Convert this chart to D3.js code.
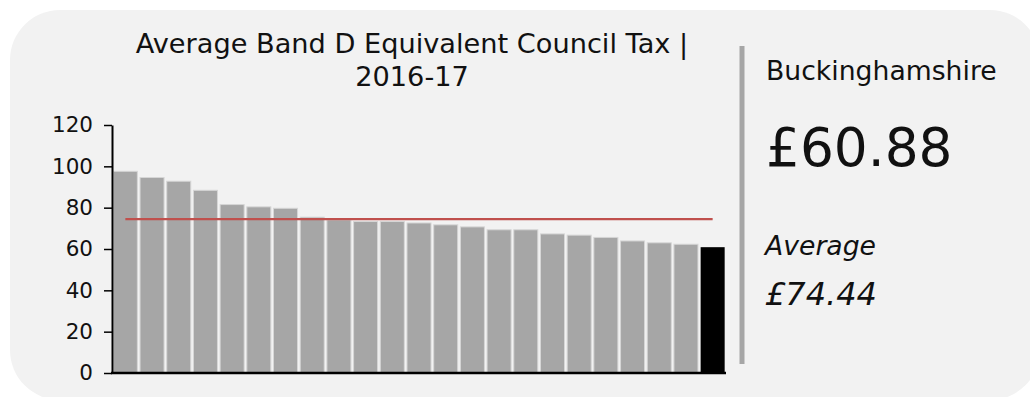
<!DOCTYPE html>
<html>
<head>
<meta charset="utf-8">
<script src="https://cdn.jsdelivr.net/npm/d3@7"></script>
<style>
  html, body { margin: 0; padding: 0; background: #ffffff; }
  svg { display: block; font-family: "DejaVu Sans", Verdana, sans-serif; }
</style>
</head>
<body>
<svg id="chart" width="1030" height="397"></svg>
<script>
// Band D equivalent council tax (£) by authority, sorted high to low;
// the highlighted authority is the last entry.
const categories = ["A1","A2","A3","A4","A5","A6","A7","A8","A9","A10","A11","A12",
                    "A13","A14","A15","A16","A17","A18","A19","A20","A21","A22","Buckinghamshire"];
const values = [97.6, 94.6, 92.8, 88.4, 81.5, 80.4, 79.7, 75.4, 74.1, 73.3, 73.3, 72.6,
                71.7, 70.7, 69.3, 69.3, 67.3, 66.7, 65.6, 63.9, 63.0, 62.3, 60.88];
const highlight = "Buckinghamshire";
const averageValue = [74.44];
const yTicks = [0, 20, 40, 60, 80, 100, 120];
const titleLines = ["Average Band D Equivalent Council Tax |", "2016-17"];

const svg = d3.select("#chart");

// panel background
svg.append("rect")
  .attr("x", 10).attr("y", 10)
  .attr("width", 1030).attr("height", 390)
  .attr("rx", 50).attr("ry", 50)
  .attr("fill", "#f2f2f2");

const x = d3.scaleBand()
  .domain(categories)
  .range([112, 726])
  .paddingInner(0.1)
  .paddingOuter(0.05);

const y = d3.scaleLinear()
  .domain([0, 120])
  .range([373, 125]);

// title
svg.append("text")
  .attr("x", 412)
  .attr("y", 53)
  .attr("text-anchor", "middle")
  .attr("font-size", "27.2px")
  .attr("fill", "#111")
  .selectAll("tspan")
  .data(titleLines)
  .join("tspan")
  .attr("x", 412)
  .attr("dy", (d, i) => i === 0 ? 0 : 33)
  .text(d => d);

// bars
const data = categories.map((c, i) => ({ name: c, value: values[i] }));
svg.append("g")
  .selectAll("rect")
  .data(data)
  .join("rect")
  .attr("x", d => x(d.name))
  .attr("y", d => y(d.value))
  .attr("width", x.bandwidth())
  .attr("height", d => y(0) - y(d.value))
  .attr("fill", d => d.name === highlight ? "#000000" : "#a6a6a6")
  .attr("stroke", d => d.name === highlight ? "none" : "#d6d6d6")
  .attr("stroke-width", 1);

// average line
svg.append("line")
  .attr("x1", x(categories[0]) + x.bandwidth() / 2)
  .attr("x2", x(categories[categories.length - 1]) + x.bandwidth() / 2)
  .attr("y1", y(averageValue[0]))
  .attr("y2", y(averageValue[0]))
  .attr("stroke", "#c0504d")
  .attr("stroke-width", 2.4);

// y axis
const yAxis = svg.append("g")
  .attr("transform", "translate(112,0)")
  .call(d3.axisLeft(y).tickValues(yTicks).tickSize(8).tickPadding(11).tickSizeOuter(0));
yAxis.select(".domain").attr("stroke", "#000").attr("stroke-width", 2);
yAxis.selectAll(".tick line").attr("stroke", "#000").attr("stroke-width", 1.5);
yAxis.selectAll(".tick text")
  .attr("font-size", "21.5px")
  .attr("font-family", "DejaVu Sans, Verdana, sans-serif")
  .attr("fill", "#111");

// x baseline
svg.append("line")
  .attr("x1", 111).attr("x2", 726)
  .attr("y1", y(0)).attr("y2", y(0))
  .attr("stroke", "#000").attr("stroke-width", 2.5);

// divider
svg.append("line")
  .attr("x1", 742).attr("x2", 742)
  .attr("y1", 46).attr("y2", 364)
  .attr("stroke", "#a6a6a6").attr("stroke-width", 5);

// side panel text
const side = svg.append("g").attr("fill", "#111");
side.append("text")
  .attr("x", 766).attr("y", 80)
  .attr("font-size", "26.67px")
  .text(highlight);
side.append("text")
  .attr("x", 766).attr("y", 166)
  .attr("font-size", "53.3px")
  .text("£" + d3.format(".2f")(values[values.length - 1]));
side.append("text")
  .attr("x", 765).attr("y", 255)
  .attr("font-size", "26.67px")
  .attr("font-style", "italic")
  .text("Average");
side.append("text")
  .attr("x", 765).attr("y", 305)
  .attr("font-size", "32px")
  .attr("font-style", "italic")
  .text("£" + d3.format(".2f")(averageValue[0]));
</script>
</body>
</html>
